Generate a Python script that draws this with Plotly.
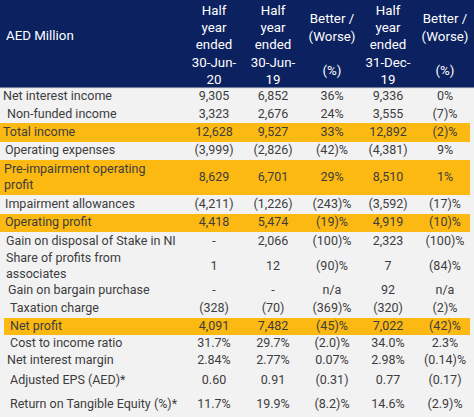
import plotly.graph_objects as go

# ---------------- data ----------------
row_labels = [
    "Net interest income",
    "Non-funded income",
    "Total income",
    "Operating expenses",
    "Pre-impairment operating<br>profit",
    "Impairment allowances",
    "Operating profit",
    "Gain on disposal of Stake in NI",
    "Share of profits from<br>associates",
    "Gain on bargain purchase",
    "Taxation charge",
    "Net profit",
    "Cost to income ratio",
    "Net interest margin",
    "Adjusted EPS (AED)*",
    "Return on Tangible Equity (%)*",
]
col_headers = [
    "Half<br>year<br>ended<br>30-Jun-<br>20",
    "Half<br>year<br>ended<br>30-Jun-<br>19",
    "Better /<br>(Worse)<br> <br>(%)",
    "Half<br>year<br>ended<br>31-Dec-<br>19",
    "Better /<br>(Worse)<br> <br>(%)",
]
h1_2020 = ["9,305", "3,323", "12,628", "(3,999)", "8,629", "(4,211)", "4,418", "-", "1", "-",
           "(328)", "4,091", "31.7%", "2.84%", "0.60", "11.7%"]
h1_2019 = ["6,852", "2,676", "9,527", "(2,826)", "6,701", "(1,226)", "5,474", "2,066", "12", "-",
           "(70)", "7,482", "29.7%", "2.77%", "0.91", "19.9%"]
yoy_pct = ["36%", "24%", "33%", "(42)%", "29%", "(243)%", "(19)%", "(100)%", "(90)%", "n/a",
           "(369)%", "(45)%", "(2.0)%", "0.07%", "(0.31)", "(8.2)%"]
h2_2019 = ["9,336", "3,555", "12,892", "(4,381)", "8,510", "(3,592)", "4,919", "2,323", "7", "92",
           "(320)", "7,022", "34.0%", "2.98%", "0.77", "14.6%"]
hoh_pct = ["0%", "(7)%", "(2)%", "9%", "1%", "(17)%", "(10)%", "(100)%", "(84)%", "n/a",
           "(2)%", "(42)%", "2.3%", "(0.14)%", "(0.17)", "(2.9)%"]
highlight_rows = [2, 4, 6, 11]

# ---------------- layout (pixels) ----------------
W, H = 474, 417
header_h = 88
row_heights = [18.5, 16.5, 19, 18, 35, 19, 18, 19, 31, 17, 19, 17, 17, 17, 23, 25]
label_indent = [3, 7, 3, 5, 4, 5, 5, 6, 6, 8, 10, 10, 10, 7, 10, 10]
col_centers = [214, 273, 332, 388, 445]
highlight_x0 = {2: 0, 4: 0, 6: 0, 11: 4}
highlight_x1 = 470

NAVY = "#0c2160"
BODY_BG = "#f2f2f3"
YELLOW = "#fcb912"
TEXT = "#3d3d3d"
FONT = "Roboto"
FS = 12.5
FS_HEAD = 13.3

tops = []
y = header_h
for h in row_heights:
    tops.append(y)
    y += h
centers = [t + h / 2 for t, h in zip(tops, row_heights)]

shapes = [
    dict(type="rect", x0=0, x1=W, y0=0, y1=header_h, fillcolor=NAVY, line_width=0, layer="below"),
    dict(type="rect", x0=0, x1=W, y0=header_h, y1=H, fillcolor=BODY_BG, line_width=0, layer="below"),
    dict(type="line", x0=0, x1=W, y0=header_h, y1=header_h, line=dict(color="#d9d9d9", width=1)),
]
for i in highlight_rows:
    shapes.append(dict(type="rect", x0=highlight_x0[i], x1=highlight_x1, y0=tops[i],
                       y1=tops[i] + row_heights[i], fillcolor=YELLOW, line_width=0, layer="below"))

fig = go.Figure()

# header texts
fig.add_trace(go.Scatter(x=[6], y=[37], text=["AED Million"], mode="text",
                         textposition="middle right",
                         textfont=dict(family=FONT, size=FS_HEAD, color="white"),
                         hoverinfo="skip", showlegend=False))
fig.add_trace(go.Scatter(x=col_centers, y=[46] * 5, text=col_headers, mode="text",
                         textposition="middle center",
                         textfont=dict(family=FONT, size=FS_HEAD, color="white"),
                         hoverinfo="skip", showlegend=False))

# row labels
fig.add_trace(go.Scatter(x=label_indent, y=centers, text=row_labels, mode="text",
                         textposition="middle right",
                         textfont=dict(family=FONT, size=FS, color=TEXT),
                         hoverinfo="skip", showlegend=False))

# value columns
for cx, col in zip(col_centers, [h1_2020, h1_2019, yoy_pct, h2_2019, hoh_pct]):
    fig.add_trace(go.Scatter(x=[cx] * len(col), y=centers, text=col, mode="text",
                             textposition="middle center",
                             textfont=dict(family=FONT, size=FS, color=TEXT),
                             hoverinfo="skip", showlegend=False))

fig.update_layout(
    width=W, height=H,
    margin=dict(l=0, r=0, t=0, b=0),
    paper_bgcolor="white", plot_bgcolor="white",
    shapes=shapes,
    xaxis=dict(range=[0, W], visible=False, fixedrange=True),
    yaxis=dict(range=[H, 0], visible=False, fixedrange=True),
)

fig.write_html(
    "out.html",
    config={"displayModeBar": False},
    post_script="document.body.style.margin='0';document.body.style.overflow='hidden';",
)
